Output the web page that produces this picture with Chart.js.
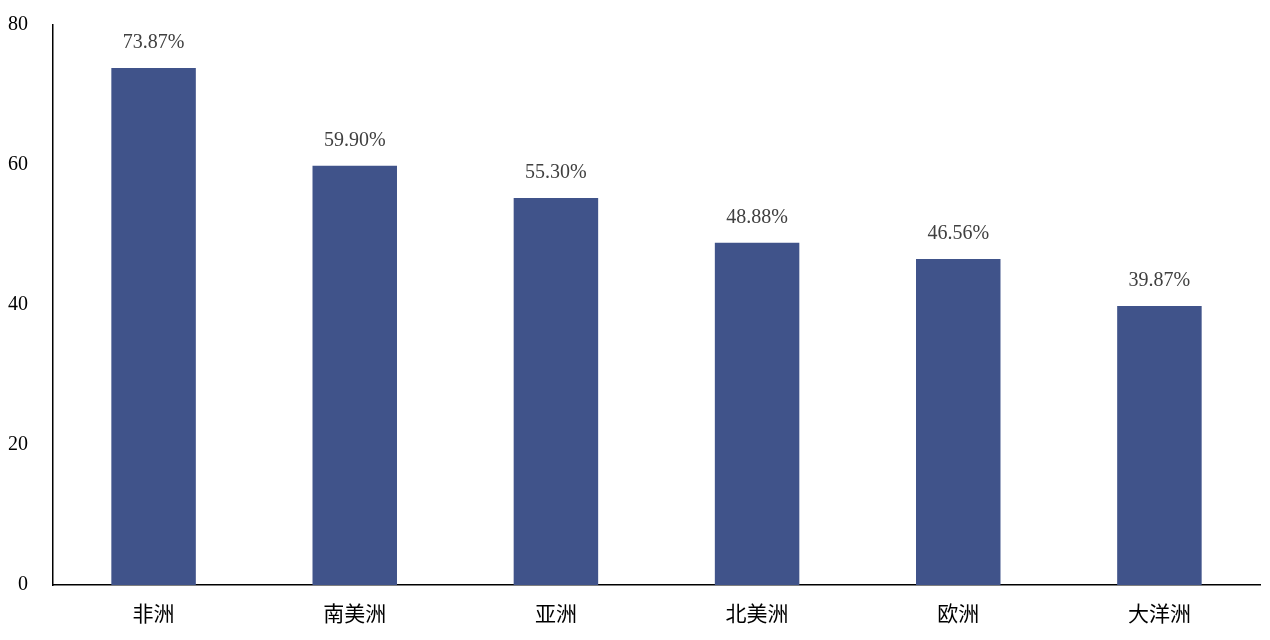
<!DOCTYPE html>
<html><head><meta charset="utf-8">
<script src="https://cdn.jsdelivr.net/npm/chart.js@4"></script>
<style>html,body{margin:0;padding:0;background:#fff}#wrap{width:1270px;height:640px}</style>
</head><body><div id="wrap"><canvas id="c" width="1270" height="640"></canvas></div>
<script>
const categories = ["非洲","南美洲","亚洲","北美洲","欧洲","大洋洲"];
const values = [73.87, 59.90, 55.30, 48.88, 46.56, 39.87];
const valueLabels = ["73.87%","59.90%","55.30%","48.88%","46.56%","39.87%"];
const yTicks = [0,20,40,60,80];

const labelPlugin = {
  id:'vlabels',
  afterDatasetsDraw(chart){
    const ctx = chart.ctx;
    const meta = chart.getDatasetMeta(0);
    ctx.save();
    ctx.font = '20px "Liberation Serif", serif';
    ctx.fillStyle = '#404040';
    ctx.textAlign = 'center';
    ctx.textBaseline = 'middle';
    meta.data.forEach((el,i)=>{
      ctx.fillText(valueLabels[i], el.x, el.y - 25);
    });
    ctx.restore();
  }
};

new Chart(document.getElementById('c'), {
  type:'bar',
  data:{labels:categories, datasets:[{data:values, backgroundColor:'#40538A', barPercentage:0.42, categoryPercentage:1.0}]},
  options:{
    responsive:false, animation:false,
    layout:{padding:{top:25,right:10,left:0,bottom:0}},
    plugins:{legend:{display:false}, tooltip:{enabled:false}},
    scales:{
      x:{
        grid:{display:false, drawTicks:false},
        border:{display:true,color:'#000',width:1.5},
        ticks:{color:'#000', padding:15, font:{family:'"Noto Sans CJK SC"', size:21}},
        afterFit(s){ s.height = 55; }
      },
      y:{
        min:0, max:80,
        afterBuildTicks(s){ s.ticks = yTicks.map(v=>({value:v})); },
        grid:{display:false, drawTicks:false},
        border:{display:true,color:'#000',width:1.5},
        ticks:{color:'#000', padding:25, font:{family:'"Liberation Serif"', size:20}},
        afterFit(s){ s.width = 53; s.paddingTop = 0; s.paddingBottom = 0; }
      }
    }
  },
  plugins:[labelPlugin]
});
</script></body></html>
